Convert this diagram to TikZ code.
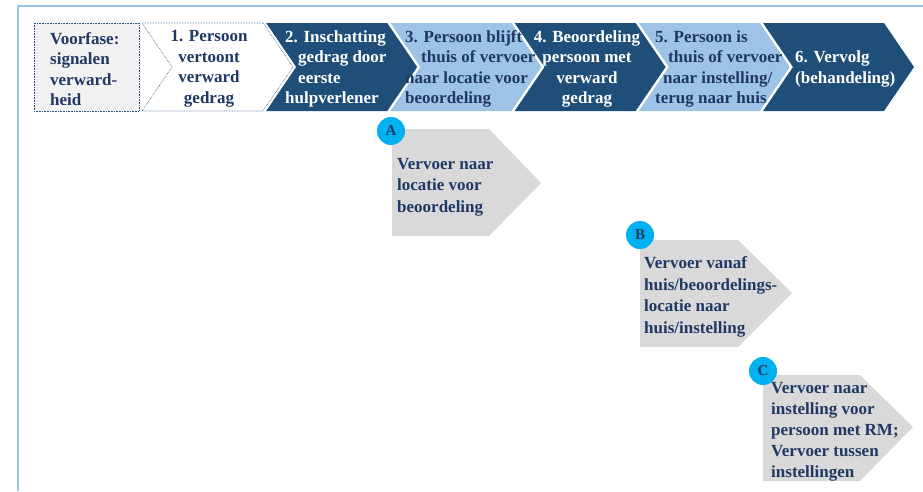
\documentclass[tikz,border=0pt]{standalone}
\usepackage{fontspec}
\setmainfont{Liberation Serif}
\usetikzlibrary{positioning}
\definecolor{vvDark}{HTML}{1F4E79}
\definecolor{vvLight}{HTML}{9DC3E6}
\definecolor{vvInk}{HTML}{1F3864}
\definecolor{vvGray}{HTML}{D9D9D9}
\definecolor{vvPale}{HTML}{F2F2F2}
\definecolor{vvCyan}{HTML}{00B0F0}
\definecolor{vvFrame}{HTML}{9CC7EC}

\begin{document}
\begin{tikzpicture}[x=1pt, y=-1pt, font=\bfseries\fontsize{17}{20.5}\selectfont,
        darkchev/.style={fill=vvDark},
        lightchev/.style={fill=vvLight},
        dotbox/.style={draw=vvDark, densely dotted, line width=0.6pt},
        txt/.style={inner sep=0pt, text=vvInk, align=left},
        wtxt/.style={txt, text=white},
        plate/.style={fill=vvGray},
        ptxt/.style={txt, font=\bfseries\fontsize{17}{21.5}\selectfont},
        badge/.style={circle, fill=vvCyan, minimum size=28pt, inner sep=0pt, text=vvInk, font=\bfseries\fontsize{15}{15}\selectfont}]
        \useasboundingbox (0,0) rectangle (923,491);
        \draw[vvFrame, line width=1.6pt] (923,6) -- (18,6) -- (18,491);

        % phases
        \filldraw[dotbox, fill=vvPale] (34,23) rectangle (139,111);
        \filldraw[dotbox, fill=white] (142,23) -- (263,23) -- (293,67) -- (263,111) -- (142,111) -- (172,67) -- cycle;
        \fill[darkchev] (266.2,23) -- (387.2,23) -- (417.2,67) -- (387.2,111) -- (266.2,111) -- (296.2,67) -- cycle;
        \fill[lightchev] (390.4,23) -- (511.4,23) -- (541.4,67) -- (511.4,111) -- (390.4,111) -- (420.4,67) -- cycle;
        \fill[darkchev] (514.6,23) -- (635.6,23) -- (665.6,67) -- (635.6,111) -- (514.6,111) -- (544.6,67) -- cycle;
        \fill[lightchev] (638.8,23) -- (759.8,23) -- (789.8,67) -- (759.8,111) -- (638.8,111) -- (668.8,67) -- cycle;
        \fill[darkchev] (763,23) -- (884,23) -- (914,67) -- (884,111) -- (763,111) -- (793,67) -- cycle;

        \node[txt, anchor=west] (p0) at (50,69) {Voorfase:\\signalen\\verward-\\heid};
        \node[txt, align=center] (p1) at (209,69) {1. Persoon\\vertoont\\verward\\gedrag};
        \node[wtxt, anchor=west] (p2) at (285,69) {2. Inschatting\\\hspace*{13pt}gedrag door\\\hspace*{13pt}eerste\\hulpverlener};
        \node[txt, anchor=west] (p3) at (405,69) {3. Persoon blijft\\\hspace*{16pt}thuis of vervoer\\naar locatie voor\\beoordeling};
        \node[wtxt, align=center] (p4) at (587,69) {4. Beoordeling\\persoon met\\verward\\gedrag};
        \node[txt, anchor=west] (p5) at (655,69) {5. Persoon is\\\hspace*{13pt}thuis of vervoer\\\hspace*{8pt}naar instelling/\\terug naar huis};
        \node[wtxt, anchor=west] (p6) at (795,69) {6. Vervolg\\(behandeling)};

        % vervoer
        \fill[plate] (392,129) -- (489,129) -- (541,183) -- (489,236) -- (392,236) -- cycle;
        \node[ptxt, anchor=west] (va) at (397,187) {Vervoer naar\\locatie voor\\beoordeling};
        \node[badge] (ba) at (391,131) {A};

        \fill[plate] (640,240) -- (738,240) -- (792,293) -- (738,347) -- (640,347) -- cycle;
        \node[ptxt, anchor=west] (vb) at (644,297) {Vervoer vanaf\\huis/beoordelings-\\locatie naar\\huis/instelling};
        \node[badge] (bb) at (640,235) {B};

        \fill[plate] (763,375) -- (860,375) -- (913,427) -- (860,481) -- (763,481) -- cycle;
        \node[ptxt, anchor=west, font=\bfseries\fontsize{17}{21}\selectfont] (vc) at (771,432) {Vervoer naar\\instelling voor\\persoon met RM;\\Vervoer tussen\\instellingen};
        \node[badge] (bc) at (763,371) {C};
      \end{tikzpicture}
\end{document}
